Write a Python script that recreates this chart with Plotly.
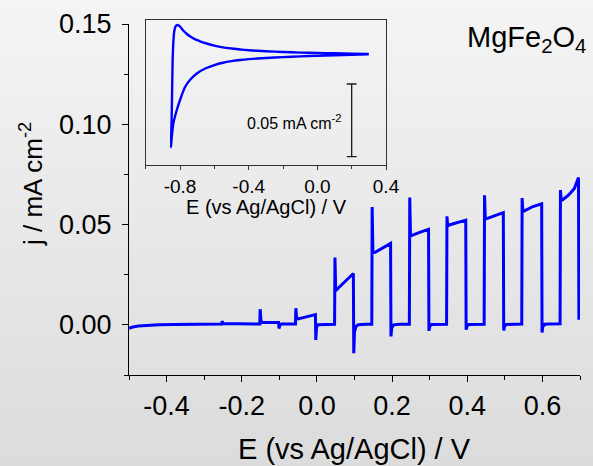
import plotly.graph_objects as go

# ---------------- data ----------------
# main chopped-light LSV: potential (V vs Ag/AgCl) and current density (mA cm-2)
E_main = [-0.500, -0.490, -0.475, -0.450, -0.420, -0.380, -0.330, -0.280, -0.253, -0.252, -0.250,
          -0.210, -0.180, -0.152, -0.151, -0.149, -0.146, -0.120, -0.102, -0.101, -0.098, -0.094,
          -0.070, -0.057, -0.056, -0.054, -0.050, -0.030, -0.015, -0.004, -0.003, -0.001, 0.003,
          0.020, 0.047, 0.048, 0.050, 0.055, 0.075, 0.097, 0.098, 0.100, 0.104, 0.110,
          0.130, 0.146, 0.147, 0.149, 0.155, 0.175, 0.196, 0.197, 0.199, 0.204,
          0.220, 0.246, 0.247, 0.249, 0.255, 0.275, 0.297, 0.298, 0.300, 0.305,
          0.320, 0.345, 0.346, 0.348, 0.352, 0.375, 0.396, 0.397, 0.399, 0.404,
          0.420, 0.445, 0.446, 0.448, 0.452, 0.475, 0.496, 0.497, 0.499, 0.504,
          0.520, 0.545, 0.546, 0.548, 0.552, 0.575, 0.598, 0.599, 0.601, 0.606,
          0.620, 0.647, 0.648, 0.650, 0.655, 0.670, 0.685, 0.696, 0.697]
J_main = [-0.0017, -0.0011, -0.0006, -0.0002, 0.0000, 0.0002, 0.0003, 0.0004, 0.0004, 0.0019, 0.0006,
          0.0005, 0.0004, 0.0004, 0.0078, 0.0022, 0.0013, 0.0013, 0.0012, -0.0018, 0.0001, 0.0004,
          0.0004, 0.0004, 0.0083, 0.0036, 0.0030, 0.0038, 0.0043, 0.0051, -0.0075, -0.0012, 0.0001,
          0.0003, 0.0003, 0.0336, 0.0170, 0.0180, 0.0215, 0.0256, -0.0141, -0.0035, -0.0008, 0.0001,
          0.0003, 0.0003, 0.0588, 0.0360, 0.0362, 0.0385, 0.0406, -0.0058, -0.0015, 0.0000,
          0.0003, 0.0003, 0.0635, 0.0442, 0.0448, 0.0462, 0.0476, -0.0030, -0.0008, 0.0002,
          0.0003, 0.0003, 0.0541, 0.0492, 0.0498, 0.0510, 0.0522, -0.0024, -0.0008, 0.0002,
          0.0003, 0.0003, 0.0646, 0.0528, 0.0530, 0.0547, 0.0560, -0.0028, -0.0008, 0.0002,
          0.0003, 0.0004, 0.0632, 0.0565, 0.0568, 0.0590, 0.0604, -0.0038, -0.0010, 0.0003,
          0.0004, 0.0005, 0.0672, 0.0620, 0.0625, 0.0648, 0.0680, 0.0735, 0.0025]

# inset cyclic voltammogram
E_cv = [0.30, 0.20, 0.10, 0.00, -0.10, -0.20, -0.30, -0.40, -0.45, -0.50, -0.55, -0.60, -0.65,
        -0.70, -0.74, -0.77, -0.80, -0.82, -0.839, -0.848, -0.853,
        -0.849, -0.846, -0.843, -0.838, -0.833, -0.826, -0.815, -0.805, -0.795, -0.780, -0.760,
        -0.740, -0.720, -0.700, -0.680, -0.650, -0.600, -0.550, -0.500, -0.450, -0.400, -0.300,
        -0.200, -0.100, 0.000, 0.100, 0.200, 0.300]
J_cv = [-0.0002, -0.0005, -0.0008, -0.0012, -0.0016, -0.0021, -0.0027, -0.0035, -0.0041, -0.0049,
        -0.0060, -0.0076, -0.0098, -0.0132, -0.0175, -0.0225, -0.0316, -0.0390, -0.0477, -0.0570,
        -0.0642,
        -0.0450, -0.0250, -0.0040, 0.0100, 0.0160, 0.0190, 0.0200, 0.0194, 0.0182, 0.0160, 0.0138,
        0.0120, 0.0106, 0.0095, 0.0086, 0.0074, 0.0058, 0.0046, 0.0038, 0.0031, 0.0026, 0.0019,
        0.0014, 0.0010, 0.0008, 0.0005, 0.0003, 0.0000]

# scale bar in the inset (0.05 mA cm-2)
SCALE_E = [0.2, 0.2]
SCALE_J = [-0.0706, -0.0206]
SCALE_LABEL = "0.05 mA cm<sup>-2</sup>"

MAIN_XTICKS = [-0.4, -0.2, 0.0, 0.2, 0.4, 0.6]
MAIN_YTICKS = [0.00, 0.05, 0.10, 0.15]
INSET_XTICKS = [-0.8, -0.4, 0.0, 0.4]

# ---------------- figure ----------------
FONT = "Liberation Sans, Arial, sans-serif"
W, H = 593, 466
ML, MR, MT, MB = 129, 13, 20, 91
PW, PH = W - ML - MR, H - MT - MB

fig = go.Figure()
fig.add_trace(go.Scatter(x=E_main, y=J_main, mode="lines",
                         line=dict(color="#0000ff", width=3), xaxis="x", yaxis="y",
                         showlegend=False, hoverinfo="skip"))
fig.add_trace(go.Scatter(x=E_cv, y=J_cv, mode="lines",
                         line=dict(color="#0000ff", width=2.4, shape="spline", smoothing=0.6),
                         xaxis="x2", yaxis="y2", showlegend=False, hoverinfo="skip"))
fig.add_trace(go.Scatter(x=SCALE_E, y=SCALE_J, mode="lines+markers",
                         line=dict(color="#1a1a1a", width=1.3),
                         marker=dict(symbol="line-ew", size=7, line=dict(color="#1a1a1a", width=1.3)),
                         xaxis="x2", yaxis="y2", showlegend=False, hoverinfo="skip"))

# background vertical gradient (paper coordinates span whole figure)
shapes = []
N = 40
for i in range(N):
    t = i / (N - 1)
    c = int(round(244 - 24 * t))
    y1 = 1 - i / N
    y0 = 1 - (i + 1) / N
    shapes.append(dict(type="rect", xref="paper", yref="paper",
                       x0=-ML / PW, x1=(W - ML) / PW,
                       y0=(y0 * H - MB) / PH, y1=(y1 * H - MB) / PH + 0.002,
                       fillcolor=f"rgb({c},{c},{c})", line=dict(width=0), layer="below"))

main_dom_top = (375 - 24) / PH  # main y axis top (0.15) sits at 24 px

fig.update_layout(
    width=W, height=H, autosize=False,
    margin=dict(l=ML, r=MR, t=MT, b=MB, pad=0, autoexpand=False),
    paper_bgcolor="#e8e8e8", plot_bgcolor="rgba(0,0,0,0)",
    font=dict(family=FONT, color="black"),
    shapes=shapes,
    xaxis=dict(domain=[0, 1], range=[-0.5, 0.7], showline=True, linecolor="black", linewidth=1.3,
               ticks="outside", ticklen=6, tickwidth=1.3, tickcolor="black",
               tickvals=MAIN_XTICKS, ticktext=[f"{v:.1f}" for v in MAIN_XTICKS],
               minor=dict(dtick=0.1, tick0=0, ticks="outside", ticklen=4, tickwidth=1.3, tickcolor="black"),
               tickfont=dict(size=27, family=FONT), showgrid=False, zeroline=False,
               anchor="y", automargin=False),
    yaxis=dict(domain=[0, main_dom_top], range=[-0.025, 0.15], showline=True, linecolor="black",
               linewidth=1.3, ticks="outside", ticklen=6, tickwidth=1.3, tickcolor="black",
               tickvals=MAIN_YTICKS, ticktext=[f"{v:.2f}" for v in MAIN_YTICKS],
               minor=dict(dtick=0.025, tick0=0, ticks="outside", ticklen=4, tickwidth=1.3, tickcolor="black"),
               tickfont=dict(size=27, family=FONT), showgrid=False, zeroline=False,
               ticklabelstandoff=5, anchor="x", automargin=False),
    xaxis2=dict(domain=[(145.7 - ML) / PW, (386 - ML) / PW], range=[-1.0, 0.4],
                showline=True, mirror=True, linecolor="#333333", linewidth=1,
                ticks="outside", ticklen=4, tickwidth=1, tickcolor="#333333",
                tickvals=INSET_XTICKS, ticktext=[f"{v:.1f}" for v in INSET_XTICKS],
                minor=dict(dtick=0.2, tick0=0, ticks="outside", ticklen=3, tickwidth=1, tickcolor="#333333"),
                tickfont=dict(size=19, family=FONT), showgrid=False, zeroline=False,
                anchor="y2", automargin=False),
    yaxis2=dict(domain=[(375 - 165) / PH, 1.0], range=[-0.0763, 0.0234],
                showline=True, mirror=True, linecolor="#333333", linewidth=1,
                showticklabels=False, ticks="", showgrid=False, zeroline=False,
                anchor="x2", automargin=False),
    annotations=[
        dict(text="E (vs Ag/AgCl) / V", xref="paper", yref="paper", x=0.5, y=(375 - 449) / PH,
             xanchor="center", yanchor="middle", showarrow=False, font=dict(size=29, family=FONT)),
        dict(text="j / mA cm<sup>-2</sup>", xref="paper", yref="paper", x=(31 - ML) / PW,
             y=(375 - 184) / PH, xanchor="center", yanchor="middle", textangle=-90,
             showarrow=False, font=dict(size=26, family=FONT)),
        dict(text="E (vs Ag/AgCl) / V", xref="paper", yref="paper", x=(266 - ML) / PW,
             y=(375 - 207) / PH, xanchor="center", yanchor="middle", showarrow=False,
             font=dict(size=20, family=FONT)),
        dict(text="MgFe<sub>2</sub>O<sub>4</sub>", xref="paper", yref="paper", x=(588 - ML) / PW,
             y=(375 - 39) / PH, xanchor="right", yanchor="middle", showarrow=False,
             font=dict(size=29, family=FONT)),
        dict(text=SCALE_LABEL, xref="x2", yref="y2", x=SCALE_E[0], xshift=-9,
             y=-0.0466, xanchor="right", yanchor="middle", showarrow=False,
             font=dict(size=16, family=FONT)),
    ],
)

fig.write_html("out.html")
